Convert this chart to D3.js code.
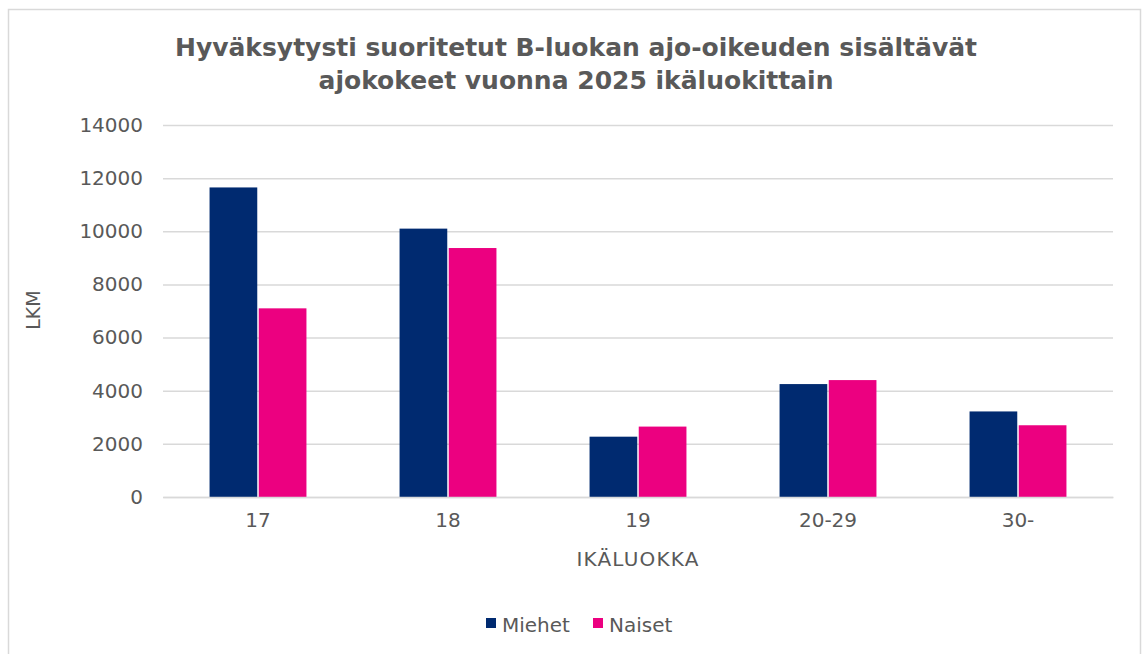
<!DOCTYPE html>
<meta charset="utf-8">
<script src="https://d3js.org/d3.v7.min.js"></script>
<style>
  body { margin: 0; background: #fff; }
  text { font-family: "DejaVu Sans", Verdana, sans-serif; fill: #595959; }
</style>
<div id="chart"></div>
<script>
var ageGroups = ["17", "18", "19", "20-29", "30-"];
var seriesNames = ["Miehet", "Naiset"];
var miehet = [11650, 10100, 2270, 4250, 3220];
var naiset = [7100, 9370, 2650, 4400, 2700];
var yTicks = [0, 2000, 4000, 6000, 8000, 10000, 12000, 14000];
var colors = ["#002A70", "#EC0080"];

var W = 1145, H = 654;
var margin = {top: 125, right: 32, bottom: 157, left: 163};
var width = W - margin.left - margin.right,
    height = H - margin.top - margin.bottom;

var svg = d3.select("#chart").append("svg")
  .attr("width", W).attr("height", H);

// outer frame
svg.append("rect")
  .attr("x", 8.5).attr("y", 9.5)
  .attr("width", 1132).attr("height", 660)
  .attr("fill", "none").attr("stroke", "#D9D9D9").attr("stroke-width", 1.5);

svg.append("text").attr("x", 576).attr("y", 56)
  .attr("text-anchor", "middle").attr("font-weight", "bold").attr("font-size", 25)
  .text("Hyväksytysti suoritetut B-luokan ajo-oikeuden sisältävät");
svg.append("text").attr("x", 576).attr("y", 89)
  .attr("text-anchor", "middle").attr("font-weight", "bold").attr("font-size", 25)
  .text("ajokokeet vuonna 2025 ikäluokittain");

var g = svg.append("g")
  .attr("transform", "translate(" + margin.left + "," + margin.top + ")");

var x = d3.scaleBand().domain(ageGroups).range([0, width])
  .paddingInner(0.49).paddingOuter(0.245);
var xs = d3.scaleBand().domain(seriesNames).range([0, x.bandwidth()]).paddingInner(0.03);
var y = d3.scaleLinear().domain([0, 14000]).range([height, 0]);

// grid
g.append("g")
  .call(d3.axisLeft(y).tickValues(yTicks).tickSize(-width).tickFormat(d => d).tickPadding(20))
  .call(a => a.select(".domain").remove())
  .call(a => a.selectAll("line").attr("stroke", "#D9D9D9").attr("stroke-width", 1.5))
  .call(a => a.selectAll("text").attr("font-size", 20).attr("fill", "#595959")
    .attr("font-family", "DejaVu Sans, Verdana, sans-serif"));

var rows = ageGroups.map((a, i) => ({age: a, values: [miehet[i], naiset[i]]}));

g.selectAll(".grp").data(rows).enter().append("g")
  .attr("transform", d => "translate(" + x(d.age) + ",0)")
  .selectAll("rect").data(d => d.values.map((v, j) => ({s: seriesNames[j], v: v, j: j})))
  .enter().append("rect")
    .attr("x", d => xs(d.s))
    .attr("width", xs.bandwidth())
    .attr("y", d => y(d.v))
    .attr("height", d => height - y(d.v))
    .attr("fill", d => colors[d.j]);

// x axis
g.append("g").attr("transform", "translate(0," + height + ")")
  .call(d3.axisBottom(x).tickSize(0).tickPadding(16))
  .call(a => a.select(".domain").attr("stroke", "#D9D9D9").attr("stroke-width", 1.5))
  .call(a => a.selectAll("text").attr("font-size", 20).attr("fill", "#595959")
    .attr("font-family", "DejaVu Sans, Verdana, sans-serif"));

svg.append("text").attr("x", 638).attr("y", 566)
  .attr("text-anchor", "middle").attr("font-size", 20).attr("letter-spacing", 1.2)
  .text("IKÄLUOKKA");

svg.append("text").attr("transform", "translate(40,310) rotate(-90)")
  .attr("text-anchor", "middle").attr("font-size", 19).text("LKM");

// legend
var legendX = [486, 593];
seriesNames.forEach(function(s, i) {
  svg.append("rect").attr("x", legendX[i]).attr("y", 618)
    .attr("width", 10).attr("height", 10).attr("fill", colors[i]);
  svg.append("text").attr("x", legendX[i] + 16).attr("y", 632)
    .attr("font-size", 20).text(s);
});
</script>
